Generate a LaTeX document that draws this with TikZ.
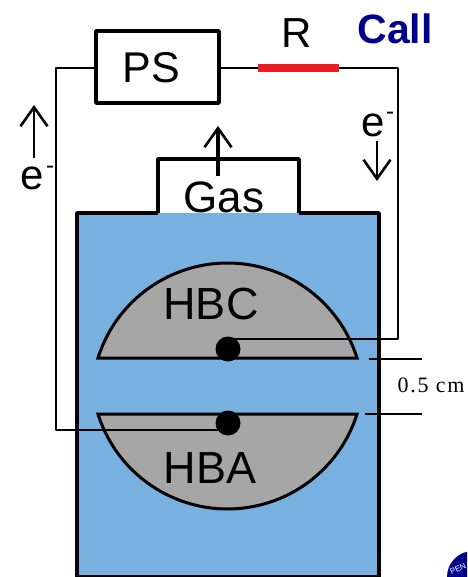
\documentclass[tikz,border=0pt]{standalone}
\usepackage{fontspec}
\setmainfont{Liberation Sans}
\newfontfamily\serifcm[LetterSpace=8]{Liberation Serif}
\usetikzlibrary{arrows.meta}
\definecolor{cellblue}{HTML}{78B0E0}
\definecolor{hbgray}{HTML}{A6A6A6}
\definecolor{calltext}{HTML}{00008F}
\definecolor{wirered}{HTML}{EE1C25}
\tikzset{
  x=1pt,y=-1pt,
  wire/.style={line width=2.4pt,line join=round},
  frame/.style={line width=3.4pt,line join=round},
  electrode/.style={fill=hbgray,draw=black,line width=3pt,line join=miter},
  contact/.style={circle,fill=black,inner sep=0pt,minimum size=25pt},
  flow/.style={line width=2.6pt,-{Straight Barb[length=19pt,width=27pt,line width=2.6pt]}},
  bigtext/.style={font=\fontsize{42}{42}\selectfont,inner sep=0pt},
  dim/.style={line width=1.2pt},
}
\begin{document}
\begin{tikzpicture}
\useasboundingbox (0,0) rectangle (467,577);
\clip (0,0) rectangle (467,577);
% cell
\fill[cellblue] (77,213) rectangle (379,577);
\draw[frame] (158,213) -- (77,213) -- (77,577) -- (379,577) -- (379,213) -- (299,213);
\draw[frame] (158,213) -- (158,159) -- (299,159) -- (299,213);
% electrodes
\draw[electrode] (98,358) arc[start angle=197.5,end angle=342.5,radius=135.8] -- cycle;
\draw[electrode] (98,414) arc[start angle=162.5,end angle=17.5,radius=135.8] -- cycle;
\node[contact] (hbc) at (228,349) {};
\node[contact] (hba) at (228,423) {};
% PS and resistor
\node[draw=black,frame,minimum width=123pt,minimum height=72pt,inner sep=0pt] (ps) at (157.5,67) {};
\node[bigtext,font=\fontsize{43}{43}\selectfont] (pslabel) at (151,68) {PS};
\coordinate (ra) at (258,68);
\coordinate (rb) at (339,68);
\coordinate (tr) at (398,68);
\coordinate (tl) at (56,68);
\draw[wire] (ps.east |- ra) -- (ra);
\draw[wire] (rb) -- (tr) -- (398,339) -- (228,339);
\draw[wire] (ps.west |- tl) -- (tl) -- (56,430) -- (228,430);
\draw[wirered,line width=7.5pt] (ra) -- (rb);
% labels
\node[bigtext] (r) at (297,33) {R};
\node[font=\bfseries\fontsize{41}{41}\selectfont,text=calltext,inner sep=0pt] (call) at (395,29) {Call};
\node[bigtext,font=\fontsize{44}{44}\selectfont] (gas) at (224,197) {Gas};
\node[bigtext,font=\fontsize{45}{45}\selectfont] (hbclabel) at (211,304) {HBC};
\node[bigtext,font=\fontsize{45}{45}\selectfont] (hbalabel) at (210,468) {HBA};
\node[bigtext] (eleft) at (32,178) {e};
\node[bigtext] (eright) at (373,125) {e};
\node[inner sep=0pt,font=\fontsize{24}{24}\selectfont] (mleft) at (50,170) {-};
\node[inner sep=0pt,font=\fontsize{24}{24}\selectfont] (mright) at (390,116) {-};
% electron and gas flow
\coordinate (a1) at (34,158); \coordinate (a2) at (34,105);
\coordinate (b1) at (377,141); \coordinate (b2) at (377,181);
\coordinate (c1) at (218,176); \coordinate (c2) at (218,126);
\draw[flow] (a1) -- (a2);
\draw[flow] (b1) -- (b2);
\draw[flow,line width=3.2pt] (c1) -- (c2);
% gap dimension
\coordinate (d1) at (369,359); \coordinate (d2) at (422,359);
\coordinate (d3) at (365,414); \coordinate (d4) at (422,414);
\draw[dim] (d1) -- (d2);
\draw[dim] (d3) -- (d4);
\node[font=\serifcm\fontsize{22}{22}\selectfont,inner sep=0pt] (gap) at (431,385) {0.5 cm};
% logo
\fill[calltext] (473,577) circle[radius=26];
\node[text=white,font=\fontsize{8}{8}\selectfont,rotate=25,inner sep=0pt] (logo) at (458,569) {PEN};
\end{tikzpicture}
\end{document}
